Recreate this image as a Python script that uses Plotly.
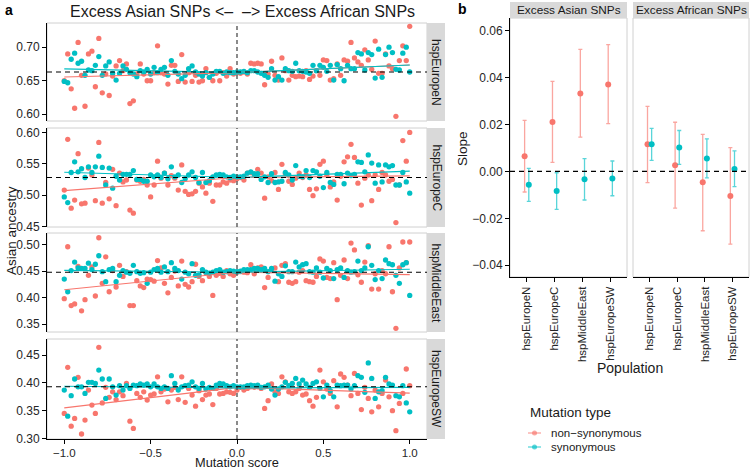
import numpy as np
import plotly.graph_objects as go

# ---------------- data ----------------
score = np.round(np.arange(-50, 51) / 50, 2)  # mutation score bins -1.00 ... 1.00

populations = ["hspEuropeN", "hspEuropeC", "hspMiddleEast", "hspEuropeSW"]

europeN_nonsyn = [0.650,0.690,0.638,0.609,0.707,0.658,0.612,0.690,0.694,0.641,
                  0.713,0.632,0.660,0.628,0.657,0.672,0.680,0.665,0.675,0.616,
                  0.620,0.660,0.675,0.660,0.650,0.650,0.662,0.702,0.662,0.660,
                  0.645,0.673,0.673,0.649,0.689,0.648,0.662,0.649,0.658,0.648,
                  0.650,0.668,0.655,0.650,0.661,0.650,0.662,0.657,0.668,0.660,
                  0.662,
                  0.661,0.663,0.660,0.676,0.675,0.676,0.675,0.644,0.660,0.679,
                  0.658,0.651,0.684,0.665,0.651,0.658,0.656,0.657,0.656,0.665,
                  0.652,0.657,0.665,0.658,0.681,0.680,0.651,0.653,0.675,0.658,
                  0.681,0.679,0.707,0.684,0.678,0.673,0.696,0.681,0.667,0.709,
                  0.661,0.661,0.690,0.672,0.668,0.597,0.680,0.702,0.680,0.731]
europeN_syn = [0.649,0.647,0.682,0.691,0.676,0.679,0.658,0.666,0.665,0.673,
               0.686,0.658,0.672,0.678,0.661,0.651,0.661,0.672,0.667,0.662,
               0.660,0.656,0.665,0.663,0.667,0.660,0.670,0.662,0.667,0.670,
               0.658,0.680,0.664,0.660,0.653,0.658,0.668,0.672,0.663,0.660,
               0.657,0.662,0.655,0.660,0.664,0.664,0.661,0.663,0.662,0.662,
               0.663,
               0.663,0.664,0.662,0.665,0.665,0.663,0.661,0.658,0.655,0.668,
               0.651,0.656,0.651,0.668,0.665,0.664,0.676,0.665,0.664,0.663,
               0.661,0.673,0.665,0.673,0.670,0.664,0.673,0.651,0.674,0.668,
               0.650,0.673,0.668,0.668,0.692,0.690,0.666,0.692,0.689,0.654,
               0.697,0.655,0.689,0.700,0.692,0.667,0.666,0.691,0.700,0.663]

europeC_nonsyn = [0.508,0.589,0.479,0.492,0.566,0.486,0.487,0.543,0.532,0.491,
                  0.584,0.487,0.520,0.494,0.541,0.483,0.535,0.521,0.524,0.476,
                  0.471,0.524,0.522,0.525,0.516,0.497,0.516,0.554,0.527,0.535,
                  0.516,0.531,0.527,0.508,0.548,0.506,0.501,0.502,0.506,0.519,
                  0.513,0.503,0.519,0.490,0.516,0.516,0.521,0.519,0.524,0.523,
                  0.526,
                  0.528,0.524,0.535,0.536,0.532,0.541,0.535,0.495,0.529,0.523,
                  0.536,0.509,0.549,0.534,0.522,0.517,0.527,0.535,0.528,0.532,
                  0.509,0.499,0.510,0.549,0.554,0.532,0.513,0.521,0.492,0.530,
                  0.553,0.561,0.581,0.560,0.519,0.484,0.527,0.532,0.491,0.532,
                  0.509,0.536,0.532,0.522,0.525,0.456,0.516,0.587,0.554,0.600]
europeC_syn = [0.497,0.488,0.536,0.553,0.537,0.542,0.528,0.545,0.536,0.545,
               0.562,0.544,0.516,0.543,0.511,0.530,0.524,0.533,0.533,0.533,
               0.539,0.525,0.525,0.522,0.522,0.532,0.529,0.532,0.528,0.535,
               0.526,0.545,0.529,0.532,0.520,0.526,0.532,0.537,0.528,0.520,
               0.536,0.520,0.523,0.529,0.532,0.533,0.532,0.529,0.528,0.530,
               0.529,
               0.529,0.530,0.535,0.537,0.534,0.534,0.525,0.529,0.520,0.534,
               0.520,0.521,0.522,0.536,0.532,0.524,0.547,0.530,0.529,0.539,
               0.528,0.539,0.537,0.530,0.512,0.536,0.520,0.517,0.533,0.533,
               0.518,0.535,0.531,0.533,0.553,0.552,0.537,0.564,0.551,0.519,
               0.548,0.521,0.548,0.545,0.547,0.516,0.516,0.536,0.521,0.503]

middleEast_nonsyn = [0.398,0.496,0.385,0.388,0.459,0.375,0.396,0.442,0.458,0.403,
                     0.513,0.427,0.477,0.411,0.451,0.420,0.461,0.440,0.449,0.385,
                     0.385,0.432,0.422,0.419,0.435,0.434,0.431,0.470,0.456,0.427,
                     0.409,0.438,0.450,0.422,0.469,0.425,0.420,0.430,0.463,0.440,
                     0.432,0.447,0.440,0.404,0.442,0.446,0.440,0.451,0.445,0.442,
                     0.448,
                     0.449,0.448,0.447,0.462,0.445,0.456,0.458,0.419,0.438,0.451,
                     0.456,0.430,0.461,0.464,0.429,0.427,0.430,0.448,0.451,0.432,
                     0.430,0.429,0.440,0.473,0.469,0.438,0.436,0.466,0.396,0.442,
                     0.471,0.436,0.503,0.490,0.443,0.429,0.467,0.498,0.416,0.445,
                     0.416,0.451,0.445,0.496,0.411,0.342,0.456,0.505,0.466,0.505]
middleEast_syn = [0.435,0.411,0.451,0.467,0.456,0.455,0.455,0.465,0.453,0.463,
                  0.479,0.449,0.430,0.453,0.455,0.430,0.442,0.451,0.448,0.446,
                  0.461,0.449,0.446,0.447,0.427,0.448,0.453,0.455,0.448,0.458,
                  0.449,0.466,0.455,0.451,0.435,0.448,0.445,0.464,0.442,0.443,
                  0.453,0.448,0.446,0.448,0.451,0.453,0.448,0.449,0.451,0.450,
                  0.449,
                  0.450,0.453,0.453,0.453,0.455,0.455,0.453,0.455,0.449,0.455,
                  0.431,0.445,0.440,0.460,0.449,0.449,0.467,0.458,0.462,0.464,
                  0.449,0.448,0.456,0.448,0.437,0.455,0.451,0.436,0.453,0.456,
                  0.438,0.451,0.448,0.449,0.469,0.451,0.456,0.496,0.461,0.434,
                  0.451,0.436,0.471,0.464,0.462,0.442,0.427,0.462,0.466,0.404]

europeSW_nonsyn = [0.345,0.428,0.322,0.336,0.410,0.308,0.333,0.387,0.360,0.345,
                   0.464,0.364,0.392,0.374,0.384,0.370,0.384,0.377,0.399,0.331,
                   0.318,0.381,0.374,0.384,0.369,0.378,0.380,0.411,0.384,0.389,
                   0.366,0.387,0.392,0.370,0.411,0.365,0.390,0.378,0.358,0.386,
                   0.370,0.378,0.380,0.361,0.390,0.380,0.381,0.384,0.383,0.381,
                   0.387,
                   0.392,0.387,0.390,0.393,0.392,0.393,0.390,0.354,0.368,0.398,
                   0.384,0.381,0.411,0.402,0.384,0.381,0.384,0.390,0.378,0.380,
                   0.368,0.358,0.374,0.423,0.402,0.389,0.381,0.404,0.357,0.416,
                   0.410,0.396,0.377,0.417,0.381,0.352,0.392,0.372,0.348,0.387,
                   0.357,0.381,0.405,0.375,0.350,0.314,0.363,0.381,0.425,0.395]
europeSW_syn = [0.387,0.340,0.377,0.407,0.393,0.393,0.381,0.401,0.401,0.399,
                0.423,0.407,0.372,0.407,0.393,0.378,0.395,0.387,0.395,0.390,
                0.396,0.395,0.398,0.396,0.398,0.393,0.398,0.393,0.390,0.393,
                0.390,0.413,0.399,0.387,0.393,0.395,0.396,0.402,0.393,0.390,
                0.399,0.389,0.392,0.390,0.396,0.399,0.398,0.395,0.393,0.395,
                0.393,
                0.393,0.393,0.395,0.396,0.395,0.396,0.392,0.393,0.396,0.389,
                0.378,0.389,0.393,0.401,0.395,0.399,0.408,0.398,0.405,0.398,
                0.392,0.399,0.402,0.390,0.375,0.396,0.386,0.375,0.396,0.395,
                0.396,0.396,0.389,0.395,0.413,0.410,0.383,0.436,0.408,0.372,
                0.384,0.386,0.410,0.398,0.396,0.377,0.375,0.395,0.364,0.348]

nonsyn_series = [europeN_nonsyn, europeC_nonsyn, middleEast_nonsyn, europeSW_nonsyn]
syn_series = [europeN_syn, europeC_syn, middleEast_syn, europeSW_syn]

# reference (overall) ancestry level per population (dashed line) and fit value at score 0
reference_level = [0.663, 0.528, 0.448, 0.393]
nonsyn_fit_at0 = [0.662, 0.528, 0.448, 0.392]
syn_fit_at0 = [0.662, 0.528, 0.448, 0.391]

# panel b: slopes and 95% intervals
asian_nonsyn_slope = [0.0064, 0.0210, 0.0332, 0.0370]
asian_nonsyn_lo = [-0.0088, 0.0038, 0.0146, 0.0203]
asian_nonsyn_hi = [0.0217, 0.0383, 0.0519, 0.0540]
asian_syn_slope = [-0.0057, -0.0084, -0.0034, -0.0030]
asian_syn_lo = [-0.0128, -0.0162, -0.0122, -0.0104]
asian_syn_hi = [0.0013, -0.0006, 0.0054, 0.0044]
african_nonsyn_slope = [0.0115, 0.0026, -0.0047, -0.0105]
african_nonsyn_lo = [-0.0048, -0.0157, -0.0253, -0.0310]
african_nonsyn_hi = [0.0277, 0.0209, 0.0157, 0.0101]
african_syn_slope = [0.0115, 0.0101, 0.0055, 0.0010]
african_syn_lo = [0.0047, 0.0030, -0.0028, -0.0065]
african_syn_hi = [0.0183, 0.0174, 0.0138, 0.0087]

facet_ranges = [[0.590, 0.736], [0.449, 0.607], [0.335, 0.522], [0.299, 0.479]]
facet_ticks = [[0.60, 0.65, 0.70], [0.45, 0.50, 0.55, 0.60],
               [0.35, 0.40, 0.45, 0.50], [0.30, 0.35, 0.40, 0.45]]
score_ticks = [-1.0, -0.5, 0.0, 0.5, 1.0]
score_ticktext = ["\u22121.0", "\u22120.5", "0.0", "0.5", "1.0"]
slope_ticks = [-0.04, -0.02, 0.0, 0.02, 0.04, 0.06]
slope_ticktext = ["\u22120.04", "\u22120.02", "0.00", "0.02", "0.04", "0.06"]

# ---------------- styling ----------------
W, H = 750, 469
RED = "#F8766D"
TEAL = "#00BFC4"
RED_A = "rgba(248,118,109,0.65)"
TEAL_A = "rgba(0,191,196,0.65)"
FONT = "Liberation Sans, Arial, Helvetica, sans-serif"
TXT = "#1a1a1a"
TICK = "#262626"
STRIP = "#D9D9D9"
BORDER = "#D0D0D0"


def px(x):
    return x / W


def py(y):
    return 1 - y / H


fig = go.Figure()

# panel a geometry (pixels)
a_x0, a_x1 = 47, 427
facet_px = [(23, 121), (128, 227), (233, 332), (339, 439)]

for i in range(4):
    n = i + 1
    xa = "x" if n == 1 else f"x{n}"
    ya = "y" if n == 1 else f"y{n}"
    fig.add_trace(go.Scatter(x=score, y=nonsyn_series[i], mode="markers",
                             marker=dict(color=RED, size=5.3, line=dict(width=0)),
                             xaxis=xa, yaxis=ya, showlegend=False, hoverinfo="skip"))
    fig.add_trace(go.Scatter(x=score, y=syn_series[i], mode="markers",
                             marker=dict(color=TEAL, size=5.3, line=dict(width=0)),
                             xaxis=xa, yaxis=ya, showlegend=False, hoverinfo="skip"))
    # fitted lines, one per side of score 0, slopes from panel b
    for b0, s_l, s_r, col in [
        (nonsyn_fit_at0[i], asian_nonsyn_slope[i], african_nonsyn_slope[i], RED),
        (syn_fit_at0[i], asian_syn_slope[i], african_syn_slope[i], TEAL),
    ]:
        xl = np.array([score[0], 0.0])
        xr = np.array([0.0, score[-1]])
        fig.add_trace(go.Scatter(x=xl, y=b0 + s_l * xl, mode="lines",
                                 line=dict(color=col, width=1.1),
                                 xaxis=xa, yaxis=ya, showlegend=False, hoverinfo="skip"))
        fig.add_trace(go.Scatter(x=xr, y=b0 + s_r * xr, mode="lines",
                                 line=dict(color=col, width=1.1),
                                 xaxis=xa, yaxis=ya, showlegend=False, hoverinfo="skip"))

# panel b
pos = np.arange(1, 5)
dodge = 0.075
panel_b = [
    ("x5", "y5", asian_nonsyn_slope, asian_nonsyn_lo, asian_nonsyn_hi,
     asian_syn_slope, asian_syn_lo, asian_syn_hi),
    ("x6", "y6", african_nonsyn_slope, african_nonsyn_lo, african_nonsyn_hi,
     african_syn_slope, african_syn_lo, african_syn_hi),
]
for xa, ya, ns, nlo, nhi, ss, slo, shi in panel_b:
    for vals, lo, hi, off, col, cola in [(ns, nlo, nhi, -dodge, RED, RED_A),
                                         (ss, slo, shi, dodge, TEAL, TEAL_A)]:
        v = np.array(vals)
        fig.add_trace(go.Scatter(
            x=pos + off, y=v, mode="markers",
            marker=dict(color=col, size=6, line=dict(width=0)),
            error_y=dict(type="data", symmetric=False,
                         array=np.array(hi) - v, arrayminus=v - np.array(lo),
                         color=cola, thickness=1.3, width=2),
            xaxis=xa, yaxis=ya, showlegend=False, hoverinfo="skip"))

layout = dict(
    width=W, height=H, margin=dict(l=0, r=0, t=0, b=0, autoexpand=False),
    paper_bgcolor="white", plot_bgcolor="white",
    font=dict(family=FONT, size=12, color=TXT),
    showlegend=False,
)

tickfont = dict(family=FONT, size=12, color=TICK)
xtickfont = dict(family=FONT, size=11.5, color=TICK)
for i in range(4):
    n = i + 1
    xk = "xaxis" if n == 1 else f"xaxis{n}"
    yk = "yaxis" if n == 1 else f"yaxis{n}"
    yd = [py(facet_px[i][1]), py(facet_px[i][0])]
    ya = "y" if n == 1 else f"y{n}"
    bottom = n == 4
    layout[xk] = dict(domain=[px(a_x0), px(a_x1)], range=[-1.1, 1.1], anchor=ya,
                      showgrid=False, zeroline=False, automargin=False,
                      showline=bottom, linecolor="black", linewidth=1,
                      ticks="outside" if bottom else "", ticklen=3.5, tickcolor="black",
                      tickvals=score_ticks, ticktext=score_ticktext,
                      showticklabels=bottom, tickfont=xtickfont,
                      matches=None if n == 1 else "x")
    layout[yk] = dict(domain=yd, range=facet_ranges[i],
                      anchor="x" if n == 1 else f"x{n}",
                      showgrid=False, zeroline=False, automargin=False,
                      showline=True, linecolor="black", linewidth=1,
                      ticks="outside", ticklen=4, tickcolor="black",
                      tickvals=facet_ticks[i], tickformat=".2f", tickfont=tickfont)

b_y = [py(277), py(18)]
btick = dict(family=FONT, size=11.5, color=TICK)
layout["xaxis5"] = dict(domain=[px(510), px(627)], range=[0.4, 4.6], anchor="y5",
                        showgrid=False, zeroline=False, showline=True, linecolor="black",
                        linewidth=1, ticks="outside", ticklen=4, tickcolor="black",
                        tickvals=list(pos), ticktext=populations, tickangle=-90,
                        tickfont=btick, automargin=False)
layout["xaxis6"] = dict(domain=[px(633), px(749)], range=[0.4, 4.6], anchor="y6",
                        showgrid=False, zeroline=False, showline=True, linecolor="black",
                        linewidth=1, ticks="outside", ticklen=4, tickcolor="black",
                        tickvals=list(pos), ticktext=populations, tickangle=-90,
                        tickfont=btick, automargin=False)
layout["yaxis5"] = dict(domain=b_y, range=[-0.045, 0.0653], anchor="x5",
                        showgrid=False, zeroline=False, showline=True, linecolor="black",
                        linewidth=1, ticks="outside", ticklen=4, tickcolor="black",
                        tickvals=slope_ticks, ticktext=slope_ticktext, tickfont=tickfont,
                        automargin=False)
layout["yaxis6"] = dict(domain=b_y, range=[-0.045, 0.0653], anchor="x6", matches="y5",
                        showgrid=False, zeroline=False, showline=False,
                        showticklabels=False, ticks="", automargin=False)
fig.update_layout(**layout)

shapes = []
annotations = []

# panel a: borders, strips, reference lines
for i in range(4):
    n = i + 1
    xr = "x" if n == 1 else f"x{n}"
    yr = "y" if n == 1 else f"y{n}"
    t, b = facet_px[i]
    shapes.append(dict(type="rect", xref=f"{xr} domain", yref=f"{yr} domain",
                       x0=0, x1=1, y0=0, y1=1, line=dict(color=BORDER, width=1),
                       layer="below"))
    shapes.append(dict(type="line", xref=xr, yref=f"{yr} domain", x0=0, x1=0, y0=0, y1=1,
                       line=dict(color="#4d4d4d", width=1.3, dash="4px,3px")))
    shapes.append(dict(type="line", xref=f"{xr} domain", yref=yr, x0=0, x1=1,
                       y0=reference_level[i], y1=reference_level[i],
                       line=dict(color="black", width=1.1, dash="5px,4px")))
    shapes.append(dict(type="rect", xref="paper", yref="paper",
                       x0=px(427), x1=px(445), y0=py(b), y1=py(t),
                       fillcolor=STRIP, line=dict(width=0)))
    annotations.append(dict(text=populations[i], xref="paper", yref="paper",
                            x=px(436), y=py((t + b) / 2), textangle=90, showarrow=False,
                            font=dict(size=12, color=TXT), xanchor="center", yanchor="middle"))

# panel b: borders, strips, zero lines
for xr, yr, x0p, x1p, label in [("x5", "y5", 510, 627, "Excess Asian SNPs"),
                                ("x6", "y6", 633, 749, "Excess African SNPs")]:
    shapes.append(dict(type="rect", xref=f"{xr} domain", yref=f"{yr} domain",
                       x0=0, x1=1, y0=0, y1=1, line=dict(color=BORDER, width=1),
                       layer="below"))
    shapes.append(dict(type="line", xref=f"{xr} domain", yref=yr, x0=0, x1=1, y0=0, y1=0,
                       line=dict(color="black", width=1.1, dash="5px,4px")))
    shapes.append(dict(type="rect", xref="paper", yref="paper",
                       x0=px(x0p), x1=px(x1p), y0=py(18), y1=py(2),
                       fillcolor=STRIP, line=dict(width=0)))
    annotations.append(dict(text=label, xref="paper", yref="paper",
                            x=px((x0p + x1p) / 2), y=py(10), showarrow=False,
                            font=dict(size=11.8, color=TXT), xanchor="center", yanchor="middle"))

# titles and labels
annotations += [
    dict(text="<b>a</b>", x=px(3), y=py(10), xanchor="left", yanchor="middle",
         font=dict(size=14, color="black")),
    dict(text="<b>b</b>", x=px(456), y=py(9), xanchor="left", yanchor="middle",
         font=dict(size=14, color="black")),
    dict(text="Excess Asian SNPs <\u2013  \u2013> Excess African SNPs", x=px(242), y=py(11),
         xanchor="center", yanchor="middle", font=dict(size=16, color=TXT)),
    dict(text="Asian ancestry", x=px(11), y=py(231), textangle=-90,
         xanchor="center", yanchor="middle", font=dict(size=13.5, color=TXT)),
    dict(text="Mutation score", x=px(237), y=py(462), xanchor="center", yanchor="middle",
         font=dict(size=12.8, color=TXT), borderpad=0),
    dict(text="Slope", x=px(463), y=py(148), textangle=-90,
         xanchor="center", yanchor="middle", font=dict(size=13.5, color=TXT)),
    dict(text="Population", x=px(630), y=py(368), xanchor="center", yanchor="middle",
         font=dict(size=14, color=TXT)),
    dict(text="Mutation type", x=px(528), y=py(412), xanchor="left", yanchor="middle",
         font=dict(size=13.5, color=TXT)),
    dict(text="non\u2212synonymous", x=px(549), y=py(433), xanchor="left", yanchor="middle",
         font=dict(size=11.5, color=TXT)),
    dict(text="synonymous", x=px(549), y=py(447), xanchor="left", yanchor="middle",
         font=dict(size=11.5, color=TXT)),
]
for a in annotations:
    a.setdefault("xref", "paper")
    a.setdefault("yref", "paper")
    a.setdefault("showarrow", False)

# legend keys
for yk, col, cola in [(433, RED, RED_A), (447, TEAL, TEAL_A)]:
    shapes.append(dict(type="line", xref="paper", yref="paper", x0=px(528), x1=px(541),
                       y0=py(yk), y1=py(yk), line=dict(color=cola, width=1.3)))
    shapes.append(dict(type="circle", xref="paper", yref="paper",
                       x0=px(532), x1=px(537), y0=py(yk + 2.5), y1=py(yk - 2.5),
                       fillcolor=cola, line=dict(width=0)))

fig.update_layout(shapes=shapes, annotations=annotations)
fig.write_html("out.html")
